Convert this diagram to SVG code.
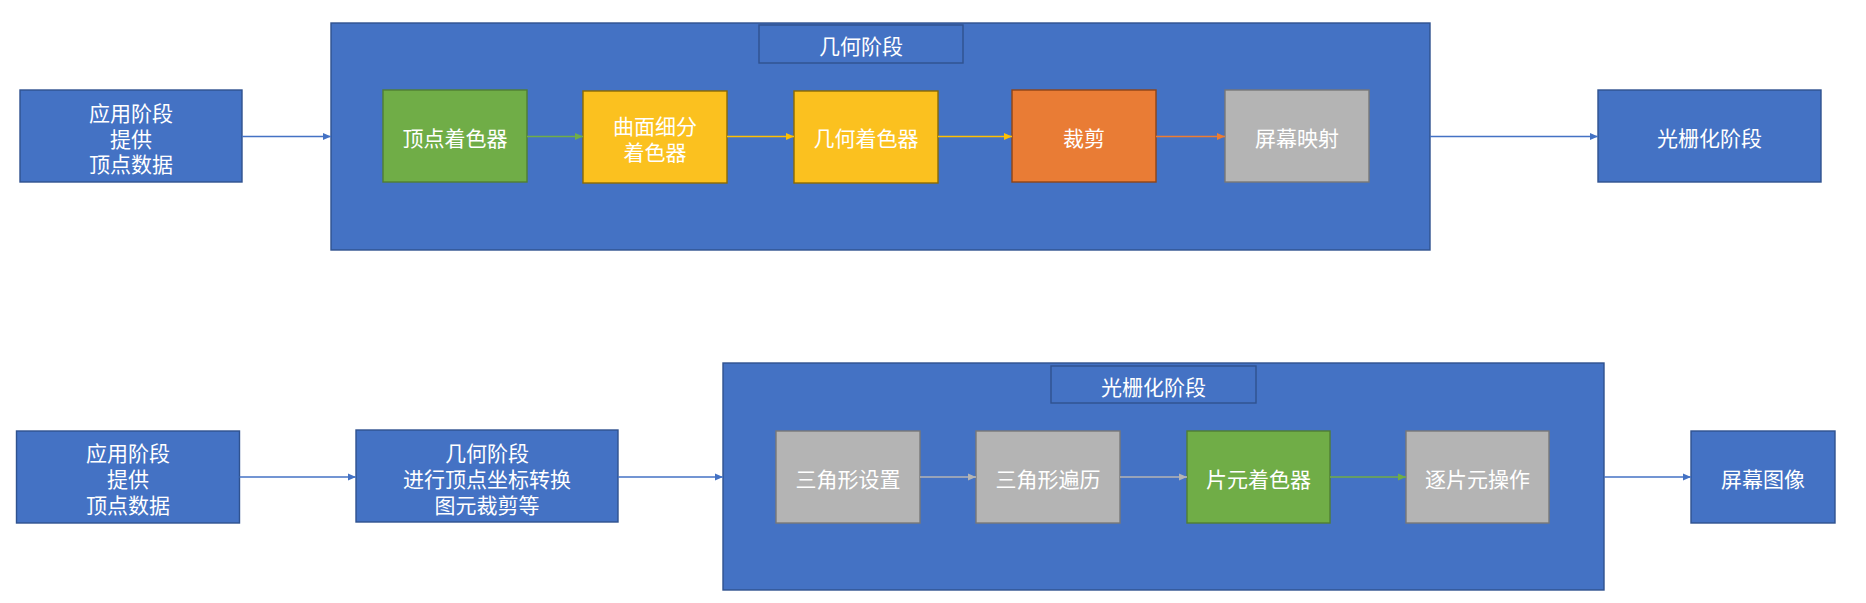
<svg xmlns="http://www.w3.org/2000/svg" width="1866" height="603" viewBox="0 0 1866 603">
<defs>
<style>
text{font-family:"Noto Sans CJK SC","Noto Sans",sans-serif;font-size:21px;fill:#ffffff;text-anchor:middle;dominant-baseline:central}
.blue{fill:#4472C4;stroke:#2F528F;stroke-width:1.4}
.green{fill:#70AD47;stroke:#507E32;stroke-width:1.4}
.yellow{fill:#FBC11F;stroke:#8C6A00;stroke-width:1.4}
.orange{fill:#E97C35;stroke:#8E4417;stroke-width:1.4}
.gray{fill:#B4B4B4;stroke:#787878;stroke-width:1.4}
.c{fill:none;stroke-width:1.3}
</style>
<marker id="aB" markerUnits="userSpaceOnUse" markerWidth="10" markerHeight="10" refX="9" refY="5" orient="auto"><path d="M1,1.5 L9,5 L1,8.5 Z" fill="#4472C4"/></marker>
<marker id="aG" markerUnits="userSpaceOnUse" markerWidth="10" markerHeight="10" refX="9" refY="5" orient="auto"><path d="M1,1.5 L9,5 L1,8.5 Z" fill="#70AD47"/></marker>
<marker id="aY" markerUnits="userSpaceOnUse" markerWidth="10" markerHeight="10" refX="9" refY="5" orient="auto"><path d="M1,1.5 L9,5 L1,8.5 Z" fill="#FFC000"/></marker>
<marker id="aO" markerUnits="userSpaceOnUse" markerWidth="10" markerHeight="10" refX="9" refY="5" orient="auto"><path d="M1,1.5 L9,5 L1,8.5 Z" fill="#ED7D31"/></marker>
<marker id="aS" markerUnits="userSpaceOnUse" markerWidth="10" markerHeight="10" refX="9" refY="5" orient="auto"><path d="M1,1.5 L9,5 L1,8.5 Z" fill="#B4B4B4"/></marker>
</defs>
<rect width="1866" height="603" fill="#ffffff"/>

<g id="geometry-stage">
<rect class="blue" x="331" y="23" width="1099" height="227"/>
</g>
<g id="geometry-title">
<rect class="blue" x="759" y="25" width="204" height="38"/>
<text x="861" y="45">几何阶段</text>
</g>
<g id="app-top">
<rect class="blue" x="20" y="90" width="222" height="92"/>
<text x="131" y="112">应用阶段</text>
<text x="131" y="137.5">提供</text>
<text x="131" y="163">顶点数据</text>
</g>
<g id="vertex-shader">
<rect class="green" x="383" y="90" width="144" height="92"/>
<text x="455" y="137">顶点着色器</text>
</g>
<g id="tessellation">
<rect class="yellow" x="583" y="91" width="144" height="92"/>
<text x="655" y="125">曲面细分</text>
<text x="655" y="151">着色器</text>
</g>
<g id="geometry-shader">
<rect class="yellow" x="794" y="91" width="144" height="92"/>
<text x="866" y="137">几何着色器</text>
</g>
<g id="clipping">
<rect class="orange" x="1012" y="90" width="144" height="92"/>
<text x="1084" y="137">裁剪</text>
</g>
<g id="screen-mapping">
<rect class="gray" x="1225" y="90" width="144" height="92"/>
<text x="1297" y="137">屏幕映射</text>
</g>
<g id="raster-top">
<rect class="blue" x="1598" y="90" width="223" height="92"/>
<text x="1709.5" y="137">光栅化阶段</text>
</g>

<g id="raster-stage">
<rect class="blue" x="723" y="363" width="881" height="227"/>
</g>
<g id="raster-title">
<rect class="blue" x="1051" y="366" width="205" height="37"/>
<text x="1153.5" y="385.5">光栅化阶段</text>
</g>
<g id="app-bottom">
<rect class="blue" x="16.5" y="431" width="223" height="92"/>
<text x="128" y="452">应用阶段</text>
<text x="128" y="478">提供</text>
<text x="128" y="504">顶点数据</text>
</g>
<g id="geometry-bottom">
<rect class="blue" x="356" y="430" width="262" height="92"/>
<text x="487" y="452">几何阶段</text>
<text x="487" y="478">进行顶点坐标转换</text>
<text x="487" y="504">图元裁剪等</text>
</g>
<g id="triangle-setup">
<rect class="gray" x="776" y="431" width="144" height="92"/>
<text x="848" y="478">三角形设置</text>
</g>
<g id="triangle-traversal">
<rect class="gray" x="976" y="431" width="144" height="92"/>
<text x="1048" y="478">三角形遍历</text>
</g>
<g id="fragment-shader">
<rect class="green" x="1187" y="431" width="143" height="92"/>
<text x="1258.5" y="478">片元着色器</text>
</g>
<g id="per-fragment">
<rect class="gray" x="1406" y="431" width="143" height="92"/>
<text x="1477.5" y="478">逐片元操作</text>
</g>
<g id="screen-image">
<rect class="blue" x="1691" y="431" width="144" height="92"/>
<text x="1763" y="478">屏幕图像</text>
</g>

<g id="connectors">
<line class="c" stroke="#4472C4" x1="242" y1="136.5" x2="331" y2="136.5" marker-end="url(#aB)"/>
<line class="c" stroke="#70AD47" x1="527" y1="136.5" x2="583" y2="136.5" marker-end="url(#aG)"/>
<line class="c" stroke="#FFC000" x1="727" y1="136.5" x2="794" y2="136.5" marker-end="url(#aY)"/>
<line class="c" stroke="#FFC000" x1="938" y1="136.5" x2="1012" y2="136.5" marker-end="url(#aY)"/>
<line class="c" stroke="#ED7D31" x1="1156" y1="136.5" x2="1225" y2="136.5" marker-end="url(#aO)"/>
<line class="c" stroke="#4472C4" x1="1430" y1="136.5" x2="1598" y2="136.5" marker-end="url(#aB)"/>
<line class="c" stroke="#4472C4" x1="239.5" y1="477" x2="356" y2="477" marker-end="url(#aB)"/>
<line class="c" stroke="#4472C4" x1="618" y1="477" x2="723" y2="477" marker-end="url(#aB)"/>
<line class="c" stroke="#B4B4B4" x1="920" y1="477" x2="976" y2="477" marker-end="url(#aS)"/>
<line class="c" stroke="#B4B4B4" x1="1120" y1="477" x2="1187" y2="477" marker-end="url(#aS)"/>
<line class="c" stroke="#70AD47" x1="1330" y1="477" x2="1406" y2="477" marker-end="url(#aG)"/>
<line class="c" stroke="#4472C4" x1="1604" y1="477" x2="1691" y2="477" marker-end="url(#aB)"/>
</g>
</svg>
